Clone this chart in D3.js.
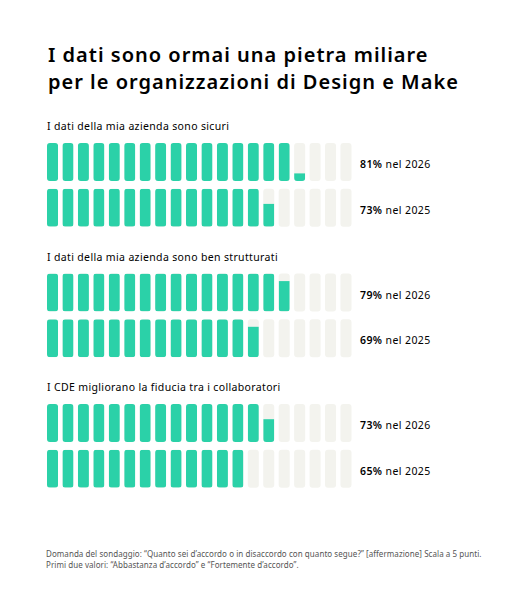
<!DOCTYPE html>
<html>
<head>
<meta charset="utf-8">
<script src="https://cdn.jsdelivr.net/npm/d3@7"></script>
<style>
  body { margin: 0; background: #fff; }
  text { font-family: "Noto Sans", "Open Sans", sans-serif; }
</style>
</head>
<body>
<div class="chart"></div>
<script>
var titleLines = ["I dati sono ormai una pietra miliare", "per le organizzazioni di Design e Make"];
var questions = [
    "I dati della mia azienda sono sicuri",
    "I dati della mia azienda sono ben strutturati",
    "I CDE migliorano la fiducia tra i collaboratori"
];
var years = ["2026", "2025"];
var values2026 = [81, 79, 73];
var values2025 = [73, 69, 65];
var footnotes = [
    "Domanda del sondaggio: \u201cQuanto sei d\u2019accordo o in disaccordo con quanto segue?\u201d [affermazione] Scala a 5 punti.",
    "Primi due valori: \u201cAbbastanza d\u2019accordo\u201d e \u201cFortemente d\u2019accordo\u201d."
];

var width = 527,
    height = 612,
    cells = 20,
    step = 100 / cells,
    barTop = 143,
    barH = 38,
    rowGap = 45.7,
    groupGap = 130.5,
    green = '#2bd1a8',
    empty = '#f3f3ee';

var svg = d3.select('.chart').append('svg')
    .attr('width', width)
    .attr('height', height);

// titolo
svg.append('g').selectAll('text')
    .data(titleLines)
    .enter().append('text')
    .attr('x', 48)
    .attr('y', function(d, i) { return 62 + i * 27; })
    .attr('font-size', 20)
    .attr('font-weight', 600)
    .attr('letter-spacing', 1)
    .attr('fill', '#000')
    .text(function(d) { return d; });

var x = d3.scaleBand()
    .domain(d3.range(cells))
    .range([47, 351.5])
    .paddingInner(0.285);

var fillScale = d3.scaleLinear()
    .domain([0, step])
    .range([0, barH])
    .clamp(true);

var rows = [];
questions.forEach(function(q, gi) {
    [values2026[gi], values2025[gi]].forEach(function(v, ri) {
        rows.push({ group: gi, row: ri, value: v, year: years[ri],
                    top: barTop + gi * groupGap + ri * rowGap });
    });
});

// domande
svg.append('g').selectAll('text')
    .data(questions)
    .enter().append('text')
    .attr('x', 47)
    .attr('y', function(d, i) { return barTop - 13 + i * groupGap; })
    .attr('font-size', 10.5)
    .attr('letter-spacing', 0.35)
    .attr('fill', '#000')
    .text(function(d) { return d; });

var rowG = svg.append('g').selectAll('g')
    .data(rows)
    .enter().append('g')
    .attr('transform', function(d) { return 'translate(0,' + d.top + ')'; });

// clip per le celle arrotondate
rowG.append('clipPath')
    .attr('id', function(d, i) { return 'clip-' + i; })
    .selectAll('rect')
    .data(d3.range(cells))
    .enter().append('rect')
    .attr('x', function(d) { return x(d); })
    .attr('y', 0)
    .attr('width', x.bandwidth())
    .attr('height', barH)
    .attr('rx', 3);

rowG.selectAll('.cell-bg')
    .data(d3.range(cells))
    .enter().append('rect')
    .attr('class', 'cell-bg')
    .attr('x', function(d) { return x(d); })
    .attr('y', 0)
    .attr('width', x.bandwidth())
    .attr('height', barH)
    .attr('rx', 3)
    .attr('fill', empty);

rowG.append('g')
    .attr('clip-path', function(d, i) { return 'url(#clip-' + i + ')'; })
    .selectAll('rect')
    .data(function(d) {
        return d3.range(cells).map(function(c) {
            return Math.max(0, Math.min(step, d.value - c * step));
        });
    })
    .enter().append('rect')
    .attr('x', function(d, i) { return x(i); })
    .attr('y', function(d) { return barH - fillScale(d); })
    .attr('width', x.bandwidth())
    .attr('height', function(d) { return fillScale(d); })
    .attr('fill', green);

var lab = rowG.append('text')
    .attr('x', 360)
    .attr('y', barH / 2 + 6)
    .attr('font-size', 10.5)
    .attr('letter-spacing', 0.4)
    .attr('fill', '#000');
lab.append('tspan')
    .attr('font-weight', 600)
    .text(function(d) { return d.value + '%'; });
lab.append('tspan')
    .text(function(d) { return ' nel ' + d.year; });

// nota
svg.append('g').selectAll('text')
    .data(footnotes)
    .enter().append('text')
    .attr('x', 46)
    .attr('y', function(d, i) { return 557 + i * 11; })
    .attr('font-size', 8)
    .attr('letter-spacing', 0.06)
    .attr('fill', '#555')
    .text(function(d) { return d; });
</script>
</body>
</html>
